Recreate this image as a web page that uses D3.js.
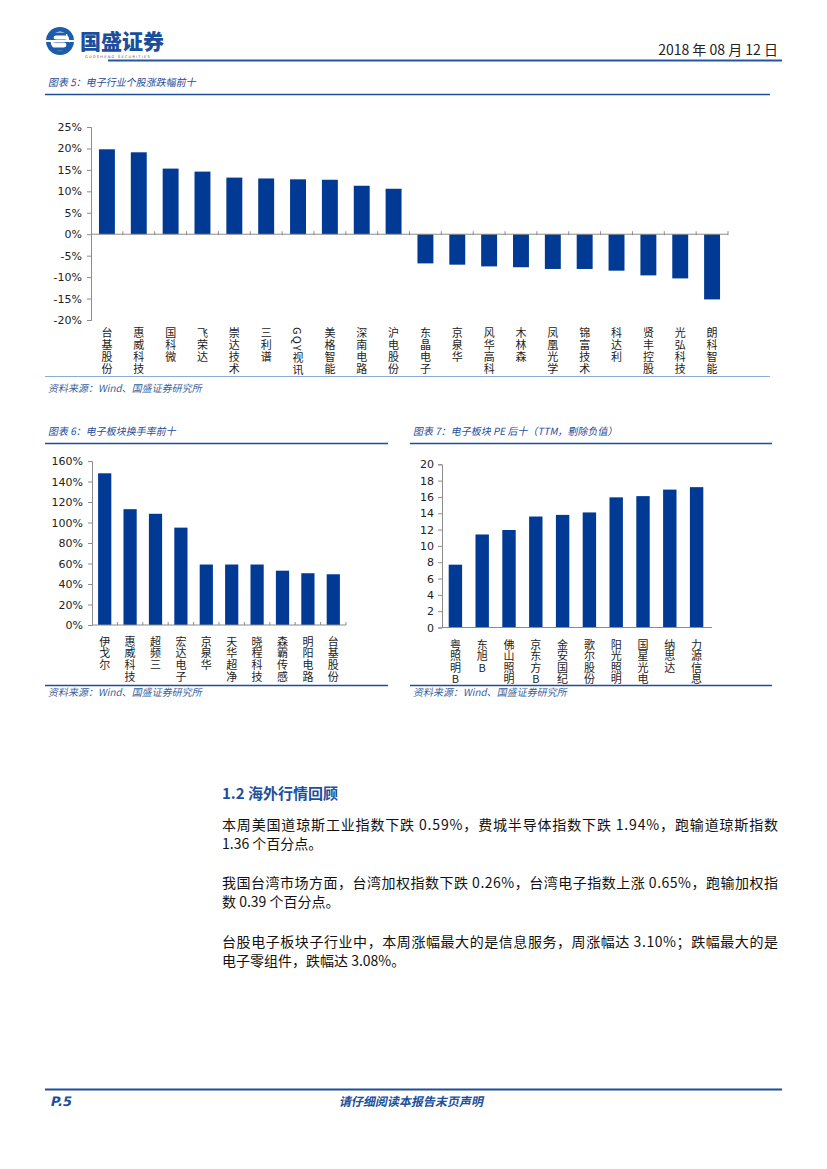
<!DOCTYPE html>
<html><head><meta charset="utf-8">
<script src="https://cdn.jsdelivr.net/npm/d3@7"></script>
<style>
body{margin:0;background:#fff;}
svg{display:block;}
</style></head>
<body>
<svg id="page" width="827" height="1169"></svg>
<script>
// ---------- DATA ----------
const fig5Names = ["台基股份","惠威科技","国科微","飞荣达","崇达技术","三利谱","GQY视讯","美格智能","深南电路","沪电股份","东晶电子","京泉华","风华高科","木林森","凤凰光学","锦富技术","科达利","贤丰控股","光弘科技","朗科智能"];
const fig5Values = [19.8,19.1,15.3,14.6,13.2,13.0,12.8,12.7,11.3,10.6,-6.8,-7.1,-7.5,-7.7,-8.1,-8.1,-8.5,-9.6,-10.3,-15.2];
const fig5Ticks = [-20,-15,-10,-5,0,5,10,15,20,25];

const fig6Names = ["伊戈尔","惠威科技","超频三","宏达电子","京泉华","天华超净","晓程科技","森霸传感","明阳电路","台基股份"];
const fig6Values = [148,113,108.5,95,59,59,59,53,50.5,49.5];
const fig6Ticks = [0,20,40,60,80,100,120,140,160];

const fig7Names = ["粤照明B","东旭B","佛山照明","京东方B","金安国纪","歌尔股份","阳光照明","国星光电","纳思达","力源信息"];
const fig7Values = [7.7,11.4,11.95,13.6,13.8,14.1,15.95,16.1,16.9,17.2];
const fig7Ticks = [0,2,4,6,8,10,12,14,16,18,20];

const paragraphs = [
  ["本周美国道琼斯工业指数下跌 0.59%，费城半导体指数下跌 1.94%，跑输道琼斯指数","1.36 个百分点。"],
  ["我国台湾市场方面，台湾加权指数下跌 0.26%，台湾电子指数上涨 0.65%，跑输加权指","数 0.39 个百分点。"],
  ["台股电子板块子行业中，本周涨幅最大的是信息服务，周涨幅达 3.10%；跌幅最大的是","电子零组件，跌幅达 3.08%。"]
];

// ---------- STYLE ----------
const BLUE = "#003A94";
const DARK = "#1F4E99";
const AXIS = "#8c8c8c";
const CJK = "'Noto Sans CJK SC','Noto Sans',sans-serif";
const NUM = "'DejaVu Sans','Noto Sans',sans-serif";

const svg = d3.select("#page");

// ---------- HEADER ----------
const logo = svg.append("g");
logo.append("circle").attr("cx",60).attr("cy",41).attr("r",14).attr("fill","#1B5CAB");
logo.append("circle").attr("cx",60).attr("cy",41).attr("r",9.5).attr("fill","#fff");
logo.append("path").attr("d","M66,34 L56,34 Q52,34 52,38 Q52,41 56,41 L64,41 Q68,41 68,45 Q68,49 64,49 L53,49")
  .attr("fill","none").attr("stroke","#1B5CAB").attr("stroke-width",3.2);
logo.append("rect").attr("x",44).attr("y",40).attr("width",32).attr("height",2).attr("fill","#fff");
svg.append("text").attr("x",80).attr("y",49).attr("font-family",CJK).attr("font-weight",900)
  .attr("font-size",21).attr("fill","#1B4F9C").text("国盛证券");
svg.append("text").attr("x",85).attr("y",58).attr("font-family",NUM).attr("font-size",3.6)
  .attr("fill","#555").attr("letter-spacing",1.2).text("GUOSHENG SECURITIES");
svg.append("text").attr("x",778).attr("y",55).attr("text-anchor","end").attr("font-family",CJK)
  .attr("font-size",14).attr("fill","#222").text("2018 年 08 月 12 日");
svg.append("line").attr("x1",108).attr("x2",782).attr("y1",60.5).attr("y2",60.5)
  .attr("stroke","#2456A4").attr("stroke-width",2.2);

// ---------- helpers ----------
function italicText(x, y, txt, size, color, weight, anchor){
  svg.append("g").attr("transform",`translate(${x},${y}) skewX(-12)`)
    .append("text").attr("x",0).attr("y",0).attr("font-family",CJK)
    .attr("font-size",size).attr("fill",color).attr("font-weight",weight||400)
    .attr("text-anchor",anchor||"start").text(txt);
}
function hline(x1,x2,y,color,w){
  svg.append("line").attr("x1",x1).attr("x2",x2).attr("y1",y).attr("y2",y)
    .attr("stroke",color).attr("stroke-width",w);
}
function source(x,y){ italicText(x,y,"资料来源：Wind、国盛证券研究所",10,"#3a5f9a"); }
function vertLabels(g, x, names, top, spacing, orient){
  g.selectAll("text.vl").data(names).join("text").attr("class","vl")
    .attr("x",n=>x(n)+x.bandwidth()/2).attr("y",top)
    .style("writing-mode","vertical-rl").style("text-orientation",orient)
    .attr("letter-spacing",spacing)
    .attr("font-family",CJK).attr("font-size",11).attr("fill","#222")
    .text(n=>n);
}
function styleYAxis(ya){
  ya.select(".domain").attr("stroke",AXIS);
  ya.selectAll(".tick line").attr("stroke",AXIS);
  ya.selectAll("text").attr("font-family",NUM).attr("font-size",11).attr("fill","#222");
}
function bandTicks(g, x, names, y0, up, down, endX){
  const b = names.map(n=>x(n)-x.step()*x.paddingInner()/2).slice(1).concat([endX]);
  g.selectAll("line.xt").data(b).join("line").attr("class","xt")
    .attr("x1",d=>d).attr("x2",d=>d).attr("y1",y0-up).attr("y2",y0+down).attr("stroke",AXIS);
}

// ---------- FIGURE 5 ----------
italicText(48, 86, "图表 5：电子行业个股涨跌幅前十", 10, DARK);
hline(45, 770, 94.5, DARK, 1.6);
{
  const g = svg.append("g");
  const x = d3.scaleBand().domain(fig5Names).range([91,728]).paddingInner(0.5).paddingOuter(0.25);
  const y = d3.scaleLinear().domain([-20,25]).range([320,127]);
  g.selectAll("rect.bar").data(fig5Values).join("rect").attr("class","bar")
    .attr("x",(d,i)=>x(fig5Names[i])).attr("width",x.bandwidth())
    .attr("y",d=>y(Math.max(0,d))).attr("height",d=>Math.abs(y(d)-y(0))).attr("fill",BLUE);
  const ya = g.append("g").attr("transform","translate(91,0)")
    .call(d3.axisLeft(y).tickValues(fig5Ticks).tickFormat(d=>d+"%").tickSize(4).tickPadding(5));
  styleYAxis(ya);
  const x0 = y(0);
  g.append("line").attr("x1",91).attr("x2",728).attr("y1",x0).attr("y2",x0).attr("stroke",AXIS);
  bandTicks(g, x, fig5Names, x0, 3, 1, 728);
  vertLabels(g, x, fig5Names, 327, 1.2, "mixed");
}
hline(45, 770, 376.5, "#8eaad6", 1.2);
source(48, 392);

// ---------- FIGURE 6 ----------
italicText(48, 435, "图表 6：电子板块换手率前十", 10, DARK);
hline(45, 388, 443.5, DARK, 1.6);
{
  const g = svg.append("g");
  const x = d3.scaleBand().domain(fig6Names).range([92,346]).paddingInner(0.48).paddingOuter(0.24);
  const y = d3.scaleLinear().domain([0,160]).range([625,461]);
  g.selectAll("rect.bar").data(fig6Values).join("rect").attr("class","bar")
    .attr("x",(d,i)=>x(fig6Names[i])).attr("width",x.bandwidth())
    .attr("y",d=>y(d)).attr("height",d=>y(0)-y(d)).attr("fill",BLUE);
  const ya = g.append("g").attr("transform","translate(92,0)")
    .call(d3.axisLeft(y).tickValues(fig6Ticks).tickFormat(d=>d+"%").tickSize(4).tickPadding(5));
  styleYAxis(ya);
  g.append("line").attr("x1",92).attr("x2",346).attr("y1",625).attr("y2",625).attr("stroke",AXIS);
  bandTicks(g, x, fig6Names, 625, 3, 0, 346);
  vertLabels(g, x, fig6Names, 636, 0.8, "upright");
}
hline(45, 388, 685.5, DARK, 1.4);
source(48, 696);

// ---------- FIGURE 7 ----------
italicText(413, 435, "图表 7：电子板块 PE 后十（TTM，剔除负值）", 10, DARK);
hline(410, 772, 443.5, DARK, 1.6);
{
  const g = svg.append("g");
  const x = d3.scaleBand().domain(fig7Names).range([442,710]).paddingInner(0.5).paddingOuter(0.25);
  const y = d3.scaleLinear().domain([0,20]).range([627.5,464.3]);
  g.selectAll("rect.bar").data(fig7Values).join("rect").attr("class","bar")
    .attr("x",(d,i)=>x(fig7Names[i])).attr("width",x.bandwidth())
    .attr("y",d=>y(d)).attr("height",d=>y(0)-y(d)).attr("fill",BLUE);
  const ya = g.append("g").attr("transform","translate(442,0)")
    .call(d3.axisLeft(y).tickValues(fig7Ticks).tickFormat(d=>d).tickSize(4).tickPadding(4));
  styleYAxis(ya);
  g.append("line").attr("x1",442).attr("x2",712).attr("y1",627.5).attr("y2",627.5).attr("stroke",AXIS);
  vertLabels(g, x, fig7Names, 639, 0.6, "upright");
}
hline(410, 772, 685.5, DARK, 1.4);
source(413, 696);

// ---------- SECTION TEXT ----------
svg.append("text").attr("x",222).attr("y",799).attr("font-family",CJK).attr("font-weight",700)
  .attr("font-size",15).attr("fill","#1B4F9C").text("1.2 海外行情回顾");
const paraY = [[830,849],[888,907],[947,966]];
paragraphs.forEach((p,i)=>{
  p.forEach((line,j)=>{
    const t = svg.append("text").attr("x",222).attr("y",paraY[i][j]).attr("font-family",CJK)
      .attr("font-size",14).attr("fill","#111").text(line);
    if (j===0) t.attr("textLength",556).attr("lengthAdjust","spacing");
  });
});

// ---------- FOOTER ----------
hline(45, 782, 1089.5, "#1F4E99", 2.2);
svg.append("g").attr("transform","translate(50,1106) skewX(-12)").append("text")
  .attr("font-family",NUM).attr("font-weight",700).attr("font-size",13).attr("fill","#1B4F9C").text("P.5");
italicText(411, 1106, "请仔细阅读本报告末页声明", 12, "#1B4F9C", 700, "middle");
</script>
</body></html>
